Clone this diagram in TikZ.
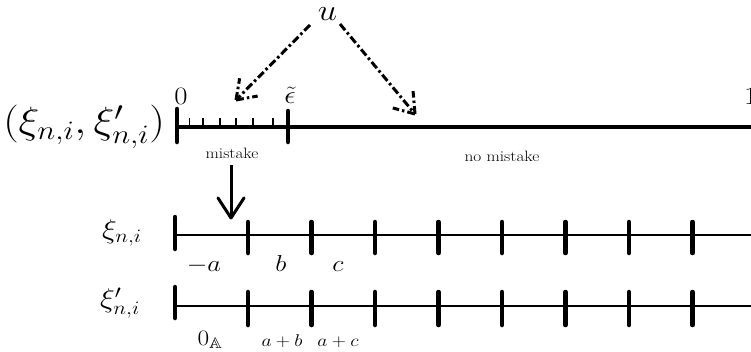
\RequirePackage{fix-cm}
\documentclass[tikz,border=0pt]{standalone}
\usepackage{amssymb}
\usepackage{graphicx}
\usetikzlibrary{calc}
\newcommand{\hs}[1]{\scalebox{1.15}[1]{#1}}
\tikzset{
  fs/.style={font=\fontsize{#1}{#1}\selectfont, inner sep=0pt, outer sep=0pt},
  mainline/.style={line width=3.5pt},
  rowline/.style={line width=2.8pt},
  bigtick/.style={line width=4.5pt, line cap=round},
  smalltick/.style={line width=1.2pt},
  dd/.style={line width=3pt, dash pattern=on 8pt off 3pt on 2.5pt off 3pt},
  solidarr/.style={line width=3pt}
}
\begin{document}
\begin{tikzpicture}[x=1pt,y=-1pt]
\useasboundingbox (0,0) rectangle (751,351);
\clip (0,0) rectangle (751,351);

% labels
\node[fs=30] (u) at (327.5,14) {\hs{$u$}};
\node[fs=38] (pair) at (84,127) {\hs{$(\xi_{n,i},\xi'_{n,i})$}};
\node[fs=25,anchor=base] (zero) at (181,104) {\hs{$0$}};
\node[fs=25,anchor=base] (eps) at (290,103) {\hs{$\tilde\epsilon$}};
\node[fs=25,anchor=base west] (one) at (744,104) {\hs{$1$}};
\node[fs=15,anchor=base] (mist) at (232,158) {\hs{mistake}};
\node[fs=15,anchor=base] (nomist) at (502,161) {\hs{no mistake}};

\node[fs=27] (xa) at (122,233) {\hs{$\xi_{n,i}$}};
\node[fs=27] (xb) at (120,303) {\hs{$\xi'_{n,i}$}};
\node[fs=23,anchor=base] (la) at (204,271) {\hs{$-a$}};
\node[fs=23,anchor=base] (lb) at (281,271) {\hs{$b$}};
\node[fs=23,anchor=base] (lc) at (338,271) {\hs{$c$}};
\node[fs=22,anchor=base] (l0) at (210,345) {\hs{$0_{\mathbb{A}}$}};
\node[fs=17,anchor=base] (lab) at (282,346) {\hs{$a+b$}};
\node[fs=17,anchor=base] (lac) at (338,346) {\hs{$a+c$}};

% top line
\draw[mainline] (177,127) -- (760,127);
\draw[bigtick] (177,109) -- (177,142);
\draw[bigtick] (288,111) -- (288,142);
\foreach \x in {189.5,203,220,236,253,273}
  \draw[smalltick] (\x,118) -- (\x,127);

% row 2
\draw[rowline] (175,235) -- (760,235);
\draw[bigtick] (175,217) -- (175,249);
\foreach \x in {248,311.5,...,757}
  \draw[bigtick] (\x,222) -- (\x,253);

% row 3
\draw[rowline] (175,306) -- (760,306);
\draw[bigtick] (175,287) -- (175,318);
\foreach \x in {248,311.5,...,757}
  \draw[bigtick] (\x,292) -- (\x,325);

% dash-dot arrows from u
\coordinate (uL) at (310,25);
\coordinate (tL) at (236,100);
\coordinate (uR) at (340,24);
\coordinate (tR) at (415,114);
\draw[dd] (uL) -- (tL);
\draw[dd] (tL) -- ($(tL)!22pt!35:(uL)$);
\draw[dd] (tL) -- ($(tL)!22pt!-35:(uL)$);
\draw[dd] (uR) -- (tR);
\draw[dd] (tR) -- ($(tR)!23pt!35:(uR)$);
\draw[dd] (tR) -- ($(tR)!23pt!-35:(uR)$);

% solid arrow from mistake
\coordinate (dA) at (231,165);
\coordinate (dB) at (231,218);
\draw[solidarr] (dA) -- (dB);
\draw[solidarr, line cap=round] (dB) -- ($(dB)!24pt!33:(dA)$);
\draw[solidarr, line cap=round] (dB) -- ($(dB)!24pt!-33:(dA)$);
\end{tikzpicture}
\end{document}
